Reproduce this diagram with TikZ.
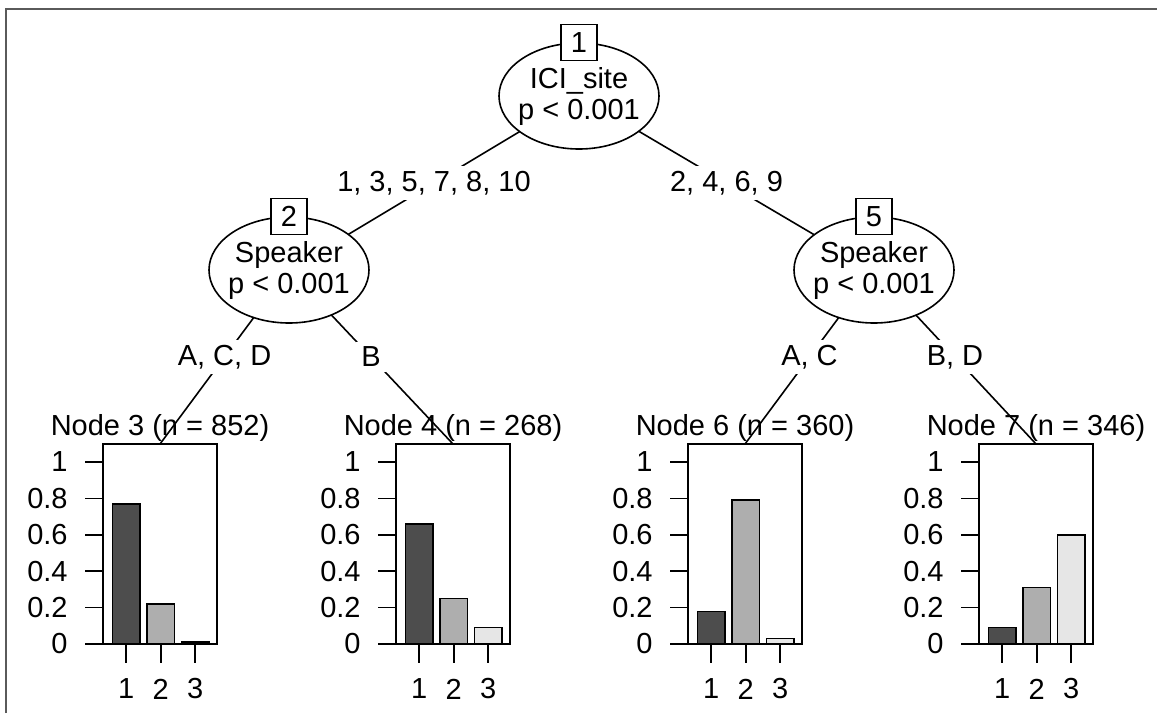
\documentclass[tikz,border=0pt]{standalone}
\usepackage{fontspec}
\setmainfont{Liberation Sans}
\usepackage{tikz}
\usetikzlibrary{
    backgrounds,
    positioning,
    shapes.geometric
}
\definecolor{bardark}{RGB}{77,77,77}
\definecolor{barmid}{RGB}{174,174,174}
\definecolor{barlight}{RGB}{230,230,230}
\definecolor{framegray}{RGB}{90,90,90}
\newcommand{\treefont}{\fontsize{14.5}{15.5}\selectfont}
\tikzset{
    % Node styles
    split node/.style={
        draw=black,
        fill=white,
        ellipse,
        line width=0.8pt,
        inner xsep=-4pt,
        inner ysep=0pt,
        minimum width=80pt,
        minimum height=53pt,
        align=center,
        font=\treefont
    },
    id box/.style={
        draw=black,
        fill=white,
        rectangle,
        line width=0.7pt,
        minimum size=18pt,
        inner sep=0pt,
        font=\treefont
    },
    edge label/.style={
        fill=white,
        inner sep=2.5pt,
        font=\treefont
    },
    panel title/.style={
        inner sep=0pt,
        font=\treefont
    },
    tick label/.style={
        inner sep=0pt,
        font=\treefont
    },
    % Line styles
    tree edge/.style={
        draw=black,
        line width=0.8pt
    },
    panel line/.style={
        draw=black,
        line width=0.8pt
    },
    frame line/.style={
        draw=framegray,
        line width=1.2pt
    },
    % Bar styles
    bar dark/.style={
        draw=black,
        fill=bardark,
        line width=0.75pt
    },
    bar mid/.style={
        draw=black,
        fill=barmid,
        line width=0.75pt
    },
    bar light/.style={
        draw=black,
        fill=barlight,
        line width=0.75pt
    }
}
% Terminal node: name, left x, title, three proportions
\newcommand{\termpanel}[6]{%
    \begin{scope}[shift={(#2,644)}]
        % Bars
        \draw[bar dark] (9.5,0) rectangle (37,{-182*#4});
        \draw[bar mid] (44,0) rectangle (71.5,{-182*#5});
        \draw[bar light] (78.5,0) rectangle (106,{-182*#6});
        % Box and title
        \draw[panel line] (0,0) rectangle (114,-200);
        \coordinate (#1) at (57,-200);
        \node[panel title, above=1pt of #1] (#1-title) {#3};
        % Y axis
        \draw[panel line] (-18,0) -- (0,0) (-18,-36.4) -- (0,-36.4)
            (-18,-72.8) -- (0,-72.8) (-18,-109.2) -- (0,-109.2)
            (-18,-145.6) -- (0,-145.6) (-18,-182) -- (0,-182);
        \node[tick label, anchor=east] (#1-y0) at (-35,0) {0};
        \node[tick label, anchor=east] (#1-y2) at (-35,-36.4) {0.2};
        \node[tick label, anchor=east] (#1-y4) at (-35,-72.8) {0.4};
        \node[tick label, anchor=east] (#1-y6) at (-35,-109.2) {0.6};
        \node[tick label, anchor=east] (#1-y8) at (-35,-145.6) {0.8};
        \node[tick label, anchor=east] (#1-y10) at (-35,-182) {1};
        % X axis
        \draw[panel line] (23.25,0) -- (23.25,19) (57.75,0) -- (57.75,19)
            (92.25,0) -- (92.25,19);
        \node[tick label] (#1-x1) at (23.25,45) {1};
        \node[tick label] (#1-x2) at (57.75,45) {2};
        \node[tick label] (#1-x3) at (92.25,45) {3};
    \end{scope}}

\begin{document}
\begin{tikzpicture}[x=0.5pt, y=-0.5pt]
        \useasboundingbox (0,0) rectangle (1157,713);
        % Frame
        \draw[frame line] (6,713) -- (6,9) -- (1157,9);

        % Inner nodes
        \node[split node] (n1) at (579,96) {ICI\_site\\p < 0.001};
        \node[id box] (id1) at (n1.north) {1};
        \node[split node] (n2) at (289,270) {Speaker\\p < 0.001};
        \node[id box] (id2) at (n2.north) {2};
        \node[split node] (n5) at (874,270) {Speaker\\p < 0.001};
        \node[id box] (id5) at (n5.north) {5};

        % Terminal nodes
        \termpanel{p3}{103}{Node 3 (n = 852)}{0.77}{0.22}{0.01}
        \termpanel{p4}{396}{Node 4 (n = 268)}{0.66}{0.25}{0.09}
        \termpanel{p6}{688}{Node 6 (n = 360)}{0.18}{0.79}{0.03}
        \termpanel{p7}{979}{Node 7 (n = 346)}{0.09}{0.31}{0.60}

        % Edges
        \begin{scope}[on background layer]
            \draw[tree edge] (n1.center) -- node[edge label] {1, 3, 5, 7, 8, 10} (n2.center);
            \draw[tree edge] (n1.center) -- node[edge label] {2, 4, 6, 9} (n5.center);
            \draw[tree edge] (n2.center) -- node[edge label] {A, C, D} (p3);
            \draw[tree edge] (n2.center) -- node[edge label] {B} (p4);
            \draw[tree edge] (n5.center) -- node[edge label] {A, C} (p6);
            \draw[tree edge] (n5.center) -- node[edge label] {B, D} (p7);
        \end{scope}
    \end{tikzpicture}
\end{document}
